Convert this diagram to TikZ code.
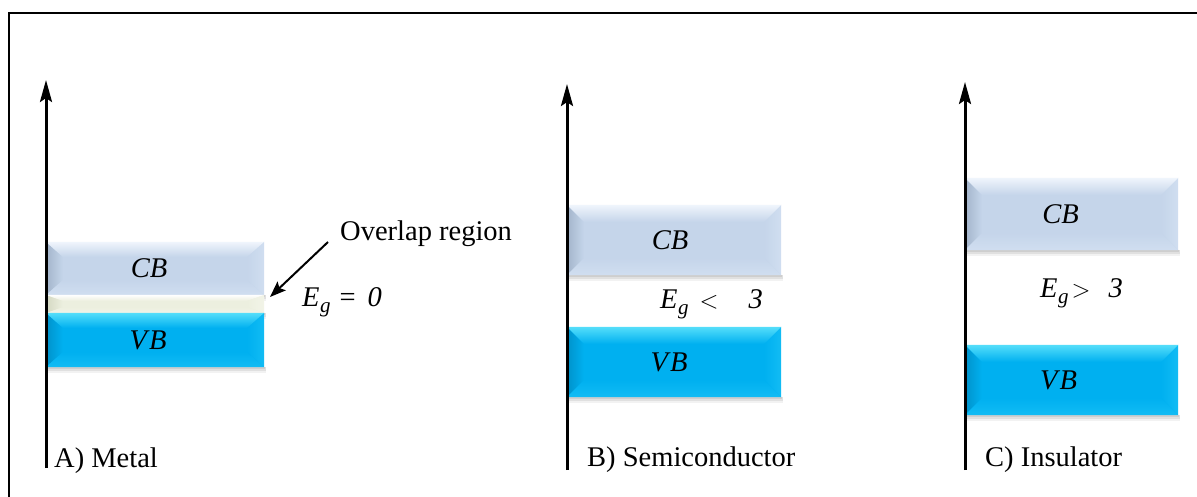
\documentclass[tikz,border=0pt]{standalone}
\usepackage{fontspec}
\setmainfont{Liberation Serif}
\usetikzlibrary{arrows.meta,backgrounds,calc}
\definecolor{cbbase}{HTML}{C5D5EA}
\definecolor{cbleft}{HTML}{A3B4CA}
\definecolor{cbright}{HTML}{D0DEF0}
\definecolor{cbtop}{HTML}{F0F5FC}
\definecolor{vbbase}{HTML}{00B0F0}
\definecolor{vbleft}{HTML}{0092CA}
\definecolor{vbright}{HTML}{12BCF4}
\definecolor{vbtop}{HTML}{55DEFA}
\definecolor{ovbase}{HTML}{ECEFDF}
\definecolor{ovleft}{HTML}{D4D8C2}
\definecolor{ovright}{HTML}{F2F4E8}
\definecolor{ovtop}{HTML}{FFFFFF}
\newcommand{\bandshape}[6]{%
 \begin{pgfonlayer}{background}
  \fill[black,opacity=0.05] ([shift={(1pt,-6pt)}]#1.south west) rectangle ([xshift=2pt]#1.south east);
  \fill[black,opacity=0.07] ([shift={(1pt,-4pt)}]#1.south west) rectangle ([xshift=1.5pt]#1.south east);
  \fill[black,opacity=0.08] ([yshift=-2pt]#1.south west) rectangle ([xshift=1pt]#1.south east);
  \fill[#2] (#1.south west) rectangle (#1.north east);
  \shade[left color=#3, right color=#2] (#1.north west) -- ([shift={(17pt,-#6)}]#1.north west) -- ([shift={(17pt,#6)}]#1.south west) -- (#1.south west) -- cycle;
  \shade[left color=#2, right color=#4] (#1.north east) -- ([shift={(-17pt,-#6)}]#1.north east) -- ([shift={(-17pt,#6)}]#1.south east) -- (#1.south east) -- cycle;
  \shade[top color=#5, bottom color=#2] (#1.north west) -- (#1.north east) -- ([shift={(-17pt,-#6)}]#1.north east) -- ([shift={(17pt,-#6)}]#1.north west) -- cycle;
  \shade[top color=#2, bottom color=#4] (#1.south west) -- (#1.south east) -- ([shift={(-17pt,#6)}]#1.south east) -- ([shift={(17pt,#6)}]#1.south west) -- cycle;
 \end{pgfonlayer}}
\newcommand{\Eg}{\textit{E}\kern0.5pt\raisebox{-6pt}{\fontsize{21}{21}\selectfont\textit{g}}}
\begin{document}
\begin{tikzpicture}[x=1pt,y=-1pt,
  every node/.style={font=\fontsize{28.5}{33}\selectfont, inner sep=0pt},
  band/.style={minimum width=#1, inner sep=0pt},
  axisline/.style={line width=3pt, -{Stealth[length=22pt,width=12pt,inset=4pt]}},
  frameline/.style={line width=2pt},
  pointer/.style={line width=2pt, -{Stealth[length=16pt,width=12pt,inset=3pt]}}]
\useasboundingbox (0,0) rectangle (1197,497);
\begin{pgfonlayer}{background}
\fill[white] (0,0) rectangle (1197,497);
\end{pgfonlayer}
% frame
\coordinate (fbl) at (9,497);
\coordinate (ftl) at (9,13);
\coordinate (ftr) at (1197,13);
\draw[frameline] (fbl) -- (ftl) -- (ftr);
% axes
\coordinate (abot) at (46,468);
\coordinate (atop) at (46,80);
\coordinate (bbot) at (567,470);
\coordinate (btop) at (567,84);
\coordinate (cbot) at (965,470);
\coordinate (ctop) at (965,82);
% metal bands
\node[band=218pt, minimum height=53pt] (mcb) at (155,268.5) {\hspace*{-12pt}\textit{CB}};
\node[band=218pt, minimum height=18pt] (mov) at (155,304) {};
\node[band=218pt, minimum height=54pt] (mvb) at (155,340) {\hspace*{-14pt}\textit{V\kern2pt B}};
\bandshape{mcb}{cbbase}{cbleft}{cbright}{cbtop}{15pt}
\bandshape{mov}{ovbase}{ovleft}{ovright}{ovtop}{6pt}
\bandshape{mvb}{vbbase}{vbleft}{vbright}{vbtop}{15pt}
% semiconductor bands
\node[band=214pt, minimum height=70pt] (scb) at (674,240) {\hspace*{-8pt}\textit{CB}};
\node[band=214pt, minimum height=70pt] (svb) at (674,362) {\hspace*{-10pt}\textit{V\kern2pt B}};
\bandshape{scb}{cbbase}{cbleft}{cbright}{cbtop}{17pt}
\bandshape{svb}{vbbase}{vbleft}{vbright}{vbtop}{17pt}
% insulator bands
\node[band=213pt, minimum height=72pt] (icb) at (1071.5,214) {\hspace*{-22pt}\textit{CB}};
\node[band=213pt, minimum height=70pt] (ivb) at (1071.5,380) {\hspace*{-26pt}\textit{V\kern2pt B}};
\bandshape{icb}{cbbase}{cbleft}{cbright}{cbtop}{17pt}
\bandshape{ivb}{vbbase}{vbleft}{vbright}{vbtop}{17pt}
% axes drawn over bands
\draw[axisline] (abot) -- (atop);
\draw[axisline] (bbot) -- (btop);
\draw[axisline] (cbot) -- (ctop);
% labels
\node[anchor=west] (ovl) at (340,234) {Overlap region};
\coordinate (ovtip) at (270,297);
\draw[pointer] ([shift={(-12pt,-8pt)}]ovl.west) -- (ovtip);
\node[anchor=west] (meg) at (302,302) {\Eg\hspace{9pt}=\hspace{12pt}\textit{0}};
\node[anchor=west] (seg) at (660,304) {\Eg\hspace{11pt}$<$\hspace{30pt}\textit{3}};
\node[anchor=west] (ieg) at (1040,293) {\Eg\hspace{3pt}$>$\hspace{18pt}\textit{3}};
\node[anchor=west] (mlab) at (54,461) {A) Metal};
\node[anchor=west] (slab) at (587,460) {B) Semiconductor};
\node[anchor=west] (ilab) at (985,460) {C) Insulator};
\end{tikzpicture}
\end{document}
